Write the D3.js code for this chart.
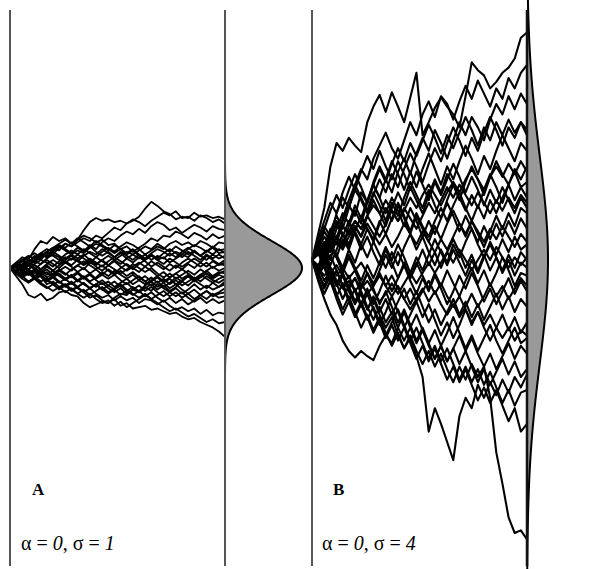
<!DOCTYPE html>
<html>
<head>
<meta charset="utf-8">
<script src="https://cdn.jsdelivr.net/npm/d3@7"></script>
<style>
  body { margin: 0; background: #fff; }
</style>
</head>
<body>
<div id="chart"></div>
<script>
(function() {
    "use strict";

    // 35 time steps, trait value of every lineage at each step
    var steps = d3.range(36);

    var pathsA = [
        [0,.2,.4,.3,.7,1.0,.9,1.15,1.0,1.1,.9,1.05,1.4,1.7,1.85,1.75,1.8,1.7,1.75,1.65,1.75,1.9,2.2,2.45,2.3,2.1,2.0,1.8,1.9,1.85,2.05,1.9,1.95,1.85,1.9,1.8],
        [0,-.1,.15,.3,.2,.45,.6,.5,.75,.9,.8,.95,1.1,1.0,1.2,1.1,1.3,1.5,1.4,1.65,1.8,1.7,1.55,1.75,1.9,2.05,1.95,2.1,1.85,1.9,1.75,1.95,1.85,1.7,1.8,1.65],
        [0,.15,.05,.3,.25,.5,.4,.65,.8,.7,.55,.75,.6,.85,.7,.95,1.1,1.0,1.2,1.35,1.25,1.45,1.3,1.55,1.7,1.6,1.4,1.5,1.3,1.45,1.6,1.5,1.35,1.55,1.45,1.4],
        [0,-.15,.1,.2,.45,.35,.6,.75,.65,.9,.8,1.05,1.2,1.1,.95,1.05,.85,.9,.7,.8,.6,.75,.9,1.1,1.0,1.2,1.15,1.35,1.25,1.1,1.3,1.2,1.05,1.25,1.1,1.2],
        [0,.1,.3,.2,.4,.3,.55,.45,.3,.5,.65,.5,.7,.55,.4,.6,.75,.6,.8,.95,.85,.7,.5,.65,.8,.7,.9,1.0,.85,.95,.8,1.0,.9,.75,.95,.9],
        [0,.05,-.1,.1,.25,.15,.35,.5,.4,.2,.35,.25,.45,.6,.5,.7,.55,.4,.6,.45,.3,.5,.35,.55,.7,.6,.45,.6,.5,.7,.85,.75,.6,.8,.65,.7],
        [0,.2,.1,-.05,.15,.3,.2,.05,.25,.4,.3,.5,.35,.2,.4,.25,.1,.3,.45,.6,.5,.35,.5,.3,.45,.35,.55,.4,.6,.75,.6,.45,.65,.5,.7,.55],
        [0,-.1,-.25,-.05,.1,-.05,.15,.3,.15,.35,.5,.65,.55,.75,.9,.8,.65,.85,.7,.55,.7,.5,.35,.5,.3,.4,.2,.35,.5,.4,.6,.45,.3,.5,.35,.45],
        [0,.1,-.05,.15,0,-.15,.05,-.1,.1,.25,.1,.3,.15,.35,.2,.05,.25,.4,.25,.1,-.05,.15,.3,.45,.3,.15,.35,.2,.05,.2,.35,.2,.45,.3,.15,.3],
        [0,-.2,-.35,-.2,-.4,-.25,-.45,-.3,-.1,-.25,-.05,.1,-.05,.2,.1,.3,.45,.3,.15,.35,.2,.4,.25,.05,.2,.05,-.1,.1,-.05,.15,0,.2,.05,.25,.1,.2],
        [0,.15,.3,.45,.35,.55,.7,.6,.8,.65,.5,.35,.5,.3,.15,.3,.1,.25,.05,-.1,.05,.2,.05,.25,.1,-.05,.15,0,.2,.35,.2,.05,.2,0,.15,.1],
        [0,-.05,.1,-.05,-.2,-.05,-.25,-.1,-.3,-.45,-.3,-.15,-.35,-.2,-.4,-.25,-.05,-.2,0,.15,0,-.15,.05,-.1,-.3,-.15,-.35,-.2,-.05,-.2,-.4,-.25,-.1,.05,-.1,0],
        [0,.1,.25,.1,.3,.5,.4,.6,.45,.3,.45,.25,.1,.25,.05,-.1,.1,-.05,-.2,-.05,.15,0,-.15,0,-.2,-.35,-.2,-.4,-.25,-.1,-.25,-.05,-.2,-.35,-.2,-.1],
        [0,-.15,-.05,-.25,-.1,-.3,-.5,-.35,-.55,-.4,-.6,-.45,-.3,-.5,-.35,-.15,-.3,-.1,-.25,-.4,-.25,-.45,-.6,-.45,-.3,-.5,-.35,-.2,-.4,-.25,-.45,-.3,-.1,-.3,-.15,-.2],
        [0,.05,-.1,.1,-.05,.15,.3,.15,0,.2,.05,-.15,0,-.2,-.05,-.25,-.4,-.25,-.45,-.6,-.45,-.3,-.5,-.65,-.5,-.7,-.55,-.35,-.5,-.3,-.45,-.25,-.4,-.55,-.4,-.3],
        [0,-.1,-.3,-.15,-.35,-.2,-.05,-.25,-.1,.05,-.1,.1,.25,.1,-.05,.1,-.1,-.25,-.1,-.3,-.15,-.35,-.5,-.35,-.55,-.4,-.6,-.45,-.65,-.5,-.35,-.5,-.3,-.45,-.55,-.4],
        [0,-.2,-.4,-.55,-.4,-.6,-.75,-.6,-.8,-.65,-.85,-.7,-.55,-.75,-.6,-.8,-.65,-.5,-.7,-.55,-.75,-.9,-.75,-.6,-.8,-.65,-.85,-.7,-.5,-.65,-.45,-.6,-.75,-.55,-.7,-.5],
        [0,.1,-.05,-.2,-.05,-.25,-.15,-.35,-.2,-.4,-.3,-.5,-.35,-.55,-.7,-.55,-.75,-.9,-.75,-.95,-.8,-.65,-.85,-.7,-.9,-1.05,-.9,-.75,-.95,-.8,-.6,-.8,-.65,-.8,-.7,-.6],
        [0,-.1,.05,-.1,-.3,-.15,-.35,-.2,-.05,-.2,-.35,-.2,-.4,-.25,-.45,-.6,-.5,-.7,-.55,-.4,-.6,-.45,-.3,-.5,-.35,-.55,-.75,-.6,-.8,-.95,-.8,-1.0,-.85,-1.0,-.9,-.75],
        [0,-.15,-.3,-.5,-.35,-.55,-.7,-.85,-.7,-.9,-.75,-.95,-.8,-1.0,-.85,-.7,-.9,-.75,-.6,-.8,-.95,-1.1,-.95,-1.15,-1.0,-.85,-1.05,-.9,-1.1,-.95,-1.15,-1.0,-.85,-1.05,-.95,-.9],
        [0,.05,-.1,-.25,-.1,-.3,-.45,-.3,-.5,-.65,-.5,-.7,-.55,-.75,-.6,-.45,-.65,-.8,-.65,-.85,-1.0,-.85,-1.05,-.9,-1.1,-1.25,-1.1,-1.3,-1.15,-1.35,-1.2,-1.0,-1.15,-.95,-1.1,-1.05],
        [0,-.3,-.6,-1.0,-1.1,-.95,-1.2,-1.1,-.9,-.85,-1.0,-1.05,-1.3,-1.45,-1.35,-1.25,-1.3,-1.1,-.95,-1.0,-.8,-.9,-.7,-.85,-.6,-.75,-.9,-1.05,-.9,-1.1,-1.25,-1.1,-1.3,-1.15,-1.3,-1.2],
        [0,.1,-.1,-.25,-.1,-.3,-.45,-.6,-.5,-.7,-.55,-.75,-.9,-.75,-.95,-1.1,-1.0,-1.2,-1.05,-1.2,-1.1,-1.3,-1.15,-1.2,-1.35,-1.2,-1.4,-1.55,-1.45,-1.6,-1.5,-1.7,-1.55,-1.75,-1.65,-1.7],
        [0,-.1,-.25,-.1,-.3,-.5,-.4,-.6,-.75,-.6,-.8,-.95,-1.1,-.95,-1.15,-1.3,-1.2,-1.4,-1.25,-1.45,-1.3,-1.15,-1.0,-1.15,-1.3,-1.45,-1.6,-1.5,-1.65,-1.8,-1.7,-1.85,-2.0,-1.9,-2.05,-2.0],
        [0,.1,-.2,-.1,-.4,-.3,-.6,-.5,-.7,-.6,-.8,-.7,-.9,-1.1,-1.0,-1.2,-1.3,-1.15,-1.4,-1.3,-1.5,-1.45,-1.4,-1.55,-1.5,-1.6,-1.7,-1.65,-1.8,-1.9,-1.85,-2.0,-2.1,-2.2,-2.35,-2.55],
        [0,.15,0,.2,.4,.55,.45,.7,.85,.75,.95,.8,.65,.8,.6,.45,.6,.4,.55,.35,.5,.65,.8,.7,.9,.75,.6,.8,.65,.5,.65,.45,.6,.75,.55,.6],
        [0,-.1,.05,.2,.1,-.05,.1,-.1,-.25,-.4,-.25,-.45,-.6,-.75,-.6,-.8,-.95,-.8,-1.0,-.85,-.7,-.85,-.65,-.5,-.7,-.55,-.4,-.6,-.45,-.3,-.5,-.35,-.2,-.4,-.25,-.35],
        [0,.1,.25,.4,.55,.4,.6,.75,.9,1.05,.9,1.1,.95,.8,1.0,.85,.7,.55,.7,.5,.65,.45,.3,.5,.35,.55,.7,.55,.4,.6,.45,.3,.5,.35,.5,.35]
    ];

    var pathsB = [
        [0,1.0,2.0,3.6,4.5,4.2,4.7,4.4,4.15,5.3,5.9,6.35,5.7,6.45,5.9,5.3,6.25,7.2,4.8,5.3,5.85,6.25,5.9,5.6,5.1,6.3,7.6,7.3,7.1,6.6,6.85,7.2,7.4,7.75,8.55,8.75],
        [0,.6,1.3,.9,1.8,2.4,2.0,2.9,3.5,3.1,3.9,4.4,4.9,4.3,3.9,4.6,5.3,4.8,5.6,6.1,5.5,6.3,6.0,5.4,6.1,6.7,6.2,6.9,6.4,5.9,6.6,6.2,7.0,6.6,7.2,7.5],
        [0,-.5,.3,1.0,.6,1.5,2.1,1.7,2.6,2.2,3.0,3.6,3.1,2.6,3.4,3.9,3.3,4.1,4.7,4.2,5.0,4.5,3.9,4.6,5.3,4.8,5.5,5.1,4.6,5.4,6.0,5.6,6.3,5.8,6.4,6.0],
        [0,.7,.3,1.1,1.7,1.2,2.0,2.7,2.3,1.8,2.5,3.1,2.6,3.3,2.8,3.5,4.1,3.6,3.0,3.7,4.3,3.8,4.5,5.1,4.6,4.0,4.7,4.2,4.9,5.5,5.0,4.4,5.1,4.7,5.3,5.0],
        [0,-.4,.4,0,.9,.5,1.3,1.9,1.4,2.2,2.9,2.4,3.1,3.8,3.3,2.7,3.4,2.8,3.5,4.1,3.5,2.9,3.6,3.1,3.8,4.4,3.9,3.3,4.0,3.5,4.2,4.8,4.3,3.8,4.5,4.2],
        [0,.5,1.1,.7,1.5,1.0,.6,1.3,.9,1.7,2.3,1.8,1.3,2.0,2.6,2.1,2.8,2.3,1.8,2.5,3.1,2.6,3.3,2.9,2.3,3.0,3.6,3.1,2.5,3.2,3.8,3.3,2.9,3.5,3.1,3.6],
        [0,-.3,.5,1.2,.8,1.6,2.3,2.9,2.4,1.9,2.6,2.1,1.5,2.2,1.7,2.4,3.0,2.5,2.0,2.7,2.1,1.6,2.3,2.9,2.4,1.9,2.5,2.0,2.7,3.3,2.8,2.2,2.9,3.4,2.8,3.0],
        [0,.4,-.2,.5,.1,.8,.4,1.1,1.7,1.2,.8,1.5,1.0,1.6,2.2,1.7,1.1,1.8,1.3,.9,1.5,2.0,1.5,2.1,2.6,2.0,1.5,2.1,1.6,2.3,1.8,2.4,2.9,2.3,2.8,2.4],
        [0,-.6,-.1,.6,.2,-.3,.4,-.1,.6,1.2,.7,1.4,2.0,1.5,2.1,1.6,1.0,1.7,1.2,.7,1.3,.8,1.4,1.9,1.4,.9,1.5,1.0,.5,1.1,1.7,1.2,1.8,1.3,2.0,1.8],
        [0,.5,1.2,1.9,2.5,2.0,2.7,3.3,2.8,2.2,2.9,2.4,1.8,2.4,1.9,1.3,2.0,1.5,.9,1.5,1.0,1.6,2.2,1.7,1.1,1.7,1.2,.7,1.3,.8,1.4,.9,1.5,1.0,1.6,1.2],
        [0,-.3,.3,-.2,.4,1.0,.5,1.1,.6,.1,.7,.2,-.3,.3,-.2,.5,1.0,.4,.9,.3,-.2,.4,-.1,.6,.1,.7,1.2,.6,.1,.7,.2,.8,.3,.9,.4,.6],
        [0,.4,0,.6,.1,-.4,.2,-.3,-.8,-.2,-.7,-.1,.5,0,.6,.1,-.5,.1,-.4,.2,.8,.3,-.2,.4,-.1,-.6,0,-.5,.1,.6,.1,-.4,.2,-.3,.3,0],
        [0,-.5,-1.0,-.4,-.9,-1.5,-1.0,-1.6,-1.1,-.5,-1.0,-.4,.2,-.3,.3,-.2,-.7,-.1,-.6,-1.1,-.5,-1.0,-.4,-.9,-1.4,-.8,-.3,-.9,-.4,-1.0,-.5,.1,-.4,-1.0,-.5,-.6],
        [0,.6,.2,.8,1.4,.9,1.5,1.0,.4,.9,.3,-.2,.4,-.1,-.7,-.2,-.8,-1.3,-.7,-1.2,-.6,-1.1,-1.7,-1.2,-.6,-1.1,-.5,-1.0,-1.6,-1.1,-1.7,-1.2,-.7,-1.3,-.8,-1.2],
        [0,-.4,.2,-.3,-.9,-.5,-1.1,-.7,-1.3,-1.9,-1.4,-2.0,-1.5,-2.1,-1.6,-1.1,-1.7,-1.2,-1.8,-2.4,-1.9,-2.5,-2.0,-1.5,-2.1,-1.6,-2.2,-1.7,-2.3,-1.8,-1.3,-1.9,-1.4,-2.0,-1.5,-1.8],
        [0,.3,-.3,.2,-.4,-1.0,-.6,-1.2,-1.8,-1.3,-1.9,-2.5,-2.0,-1.4,-2.0,-2.6,-2.1,-1.6,-2.2,-1.7,-2.3,-2.9,-2.4,-3.0,-2.5,-1.9,-2.5,-2.0,-2.6,-3.1,-2.6,-2.1,-2.7,-2.2,-2.8,-2.4],
        [0,-.8,-1.5,-2.1,-2.5,-3.1,-3.5,-3.75,-3.5,-3.7,-3.85,-3.3,-2.9,-3.2,-2.6,-2.0,-2.6,-2.1,-2.7,-3.2,-2.7,-3.3,-2.8,-2.2,-2.8,-3.4,-2.9,-3.5,-3.0,-2.5,-3.1,-3.6,-3.1,-2.6,-3.2,-3.0],
        [0,-.3,-.8,-.4,-1.0,-.5,-1.1,-1.6,-1.2,-1.8,-2.3,-1.8,-2.4,-2.0,-2.6,-3.1,-2.6,-3.2,-2.7,-3.3,-3.8,-3.3,-3.9,-3.4,-2.9,-3.5,-3.0,-3.6,-4.1,-3.6,-4.2,-3.7,-3.2,-3.8,-3.3,-3.6],
        [0,-.4,.1,-.5,-1.0,-.6,-1.2,-1.7,-1.3,-1.9,-1.5,-2.1,-2.6,-2.2,-2.9,-3.4,-3.0,-3.7,-4.5,-6.6,-5.7,-6.3,-7.0,-7.7,-6.0,-5.3,-5.7,-4.8,-5.3,-4.7,-5.2,-4.6,-5.1,-4.5,-4.9,-4.4],
        [0,-.5,-1.1,-.6,-1.3,-1.9,-1.4,-2.0,-2.6,-2.1,-2.7,-2.2,-2.8,-3.3,-2.8,-3.4,-2.9,-3.5,-4.0,-3.5,-4.1,-3.6,-4.2,-4.7,-4.1,-4.6,-4.0,-4.5,-4.1,-5.3,-7.4,-8.6,-9.9,-10.5,-10.4,-10.75],
        [0,.3,-.3,-.9,-.4,-1.0,-1.6,-1.1,-1.7,-2.3,-1.8,-2.4,-3.0,-2.5,-3.1,-2.6,-3.2,-3.8,-3.3,-3.9,-3.4,-4.0,-4.6,-4.1,-4.7,-4.2,-4.8,-5.4,-4.9,-5.5,-5.0,-5.6,-6.2,-5.7,-6.6,-6.3],
        [0,-.6,-.2,-.8,-1.4,-.9,-1.5,-2.1,-1.6,-2.2,-2.8,-2.3,-2.9,-2.4,-1.9,-2.5,-3.1,-2.6,-3.2,-3.8,-3.3,-3.9,-3.4,-4.0,-4.6,-4.1,-4.7,-4.2,-4.8,-4.3,-4.9,-5.5,-5.0,-5.6,-5.1,-5.0],
        [0,.5,0,.6,.1,-.5,.1,-.4,-1.0,-.5,-1.1,-1.7,-1.2,-1.8,-2.4,-1.9,-2.5,-3.1,-2.6,-3.2,-3.8,-3.3,-3.9,-3.4,-4.0,-3.5,-4.1,-4.7,-4.2,-4.8,-4.3,-3.8,-4.4,-3.9,-4.5,-4.2],
        [0,.8,1.5,2.2,1.8,2.6,3.2,2.7,3.4,4.0,3.5,4.2,3.6,3.1,3.8,3.3,2.7,3.4,2.9,2.3,3.0,2.5,3.1,3.7,3.2,2.6,3.2,2.7,2.1,2.7,2.2,2.8,2.3,1.8,2.4,2.0],
        [0,-.7,-1.3,-.8,-1.5,-2.1,-1.6,-2.2,-1.7,-1.1,-1.7,-1.2,-.6,-1.2,-.7,-.1,-.7,-.2,.4,-.2,.3,-.3,.3,.8,.3,-.3,.2,-.4,.2,-.4,.1,-.5,0,-.6,-.1,-.3],
        [0,.4,.9,.5,1.2,1.8,1.4,2.1,1.6,2.3,2.9,3.5,3.0,3.7,4.3,3.8,4.5,4.0,4.6,5.2,4.7,4.1,4.8,4.3,4.9,5.5,5.0,4.4,5.1,4.6,5.3,4.8,5.4,4.9,5.3,4.8],
        [0,.3,.7,.4,.9,1.3,1.0,1.5,1.2,1.7,2.1,1.8,2.3,1.9,1.5,1.9,2.4,2.0,2.5,2.9,2.5,2.1,2.6,3.0,2.6,3.1,3.5,3.1,2.7,3.2,3.6,3.2,3.7,3.3,3.8,3.4],
        [0,-.3,-.6,-.3,-.8,-1.1,-.8,-1.2,-.9,-1.3,-1.0,-.6,-1.0,-1.4,-1.0,-1.5,-1.9,-1.5,-1.1,-1.6,-1.2,-1.7,-2.1,-1.7,-2.2,-1.8,-1.3,-1.8,-1.4,-.9,-1.4,-1.0,-1.5,-1.1,-.7,-1.0],
        [0,.2,.6,.3,.7,.4,.9,1.3,.9,1.4,1.0,.6,1.0,.5,.9,1.4,1.0,.6,1.1,.7,.3,.8,.4,.9,1.4,1.0,1.5,1.1,.7,1.2,.8,1.3,.9,.5,1.0,.7],
        [0,-.2,.1,-.3,-.6,-.3,-.7,-.4,-.1,-.5,-.9,-.5,-1.0,-.6,-1.1,-1.5,-1.1,-1.6,-1.2,-.8,-1.3,-.9,-1.4,-1.8,-1.4,-1.9,-2.4,-2.0,-2.5,-2.1,-2.6,-3.0,-2.6,-3.1,-2.7,-2.9],
        [0,.4,.1,.5,.9,.6,1.1,1.5,1.2,1.7,1.3,.9,1.4,1.9,1.5,2.0,1.6,1.2,1.7,2.2,1.8,2.3,2.8,2.4,2.9,2.5,2.1,2.6,2.2,1.8,2.3,1.9,2.4,2.0,2.5,2.2],
        [0,-.4,-.1,-.5,-.2,-.6,-1.0,-.7,-1.1,-.8,-1.2,-1.6,-1.3,-.9,-1.3,-.9,-.5,-.9,-.5,-.1,-.5,-.1,.3,-.1,.4,0,-.4,0,.4,0,.5,.1,-.3,.1,-.2,.1]
    ];

    var panelNames = ["A", "B"];
    var alphas = [0, 0];
    var sigmas = [1, 4];

    var width = 602, height = 569;
    var serif = "'Liberation Serif', 'Times New Roman', 'DejaVu Serif', serif";
    var svg = d3.select("#chart").append("svg")
        .attr("width", width).attr("height", height);

    // layout of the two panels
    var panels = [
        { paths: pathsA, x0: 10, x1: 225, yMid: 268, pxPerUnit: 27, peak: 77, walkWidth: 1.8,
          leftStroke: "#555", leftWidth: 2, rightStroke: "#555", rightWidth: 2, labelX: 32, formulaX: 21 },
        { paths: pathsB, x0: 312, x1: 527, yMid: 260, pxPerUnit: 26, peak: 21, walkWidth: 2.1,
          leftStroke: "#222", leftWidth: 1.5, rightStroke: "#111", rightWidth: 2.5, labelX: 333, formulaX: 322 }
    ];

    panels.forEach(function(p, k) {
        var sigma = sigmas[k];
        var g = svg.append("g");

        var x = d3.scaleLinear().domain([0, steps.length - 1]).range([p.x0, p.x1]);
        var y = d3.scaleLinear().domain([-1, 1])
            .range([p.yMid + p.pxPerUnit, p.yMid - p.pxPerUnit]);

        var line = d3.line()
            .x(function(d, i) { return x(steps[i]); })
            .y(function(d) { return y(d); });

        g.selectAll("path.walk").data(p.paths).enter().append("path")
            .attr("class", "walk")
            .attr("d", line)
            .attr("fill", "none")
            .attr("stroke", "#000")
            .attr("stroke-width", p.walkWidth)
            .attr("stroke-linejoin", "round");

        // normal density of the end values, variance sigma^2 * t
        var pdf = function(v) {
            return Math.exp(-(v - alphas[k]) * (v - alphas[k]) / (2 * sigma * sigma)) /
                (sigma * Math.sqrt(2 * Math.PI));
        };
        var grid = d3.range(-4.2 * sigma, 4.2 * sigma + 1e-9, sigma / 25);
        var w = d3.scaleLinear().domain([0, pdf(alphas[k])]).range([0, p.peak]);

        g.append("path")
            .datum(grid)
            .attr("d", d3.area()
                .y(function(v) { return y(v); })
                .x0(p.x1)
                .x1(function(v) { return p.x1 + w(pdf(v)); }))
            .attr("fill", "#999");

        g.append("path")
            .datum(grid)
            .attr("d", d3.line()
                .y(function(v) { return y(v); })
                .x(function(v) { return p.x1 + w(pdf(v)); }))
            .attr("fill", "none")
            .attr("stroke", "#000")
            .attr("stroke-width", 2);

        g.append("line")
            .attr("x1", p.x0).attr("x2", p.x0).attr("y1", 10).attr("y2", 566)
            .attr("stroke", p.leftStroke).attr("stroke-width", p.leftWidth);
        g.append("line")
            .attr("x1", p.x1).attr("x2", p.x1).attr("y1", 10).attr("y2", 566)
            .attr("stroke", p.rightStroke).attr("stroke-width", p.rightWidth);

        g.append("text")
            .attr("x", p.labelX).attr("y", 495)
            .attr("font-family", serif)
            .attr("font-size", 17).attr("font-weight", "bold")
            .text(panelNames[k]);

        var f = g.append("text")
            .attr("x", p.formulaX).attr("y", 550)
            .attr("font-family", serif)
            .attr("font-size", 20);
        f.append("tspan").text("\u03B1 = ");
        f.append("tspan").attr("font-style", "italic").text(alphas[k]);
        f.append("tspan").text(", \u03C3 = ");
        f.append("tspan").attr("font-style", "italic").text(sigmas[k]);
    });
}());
</script>
</body>
</html>
